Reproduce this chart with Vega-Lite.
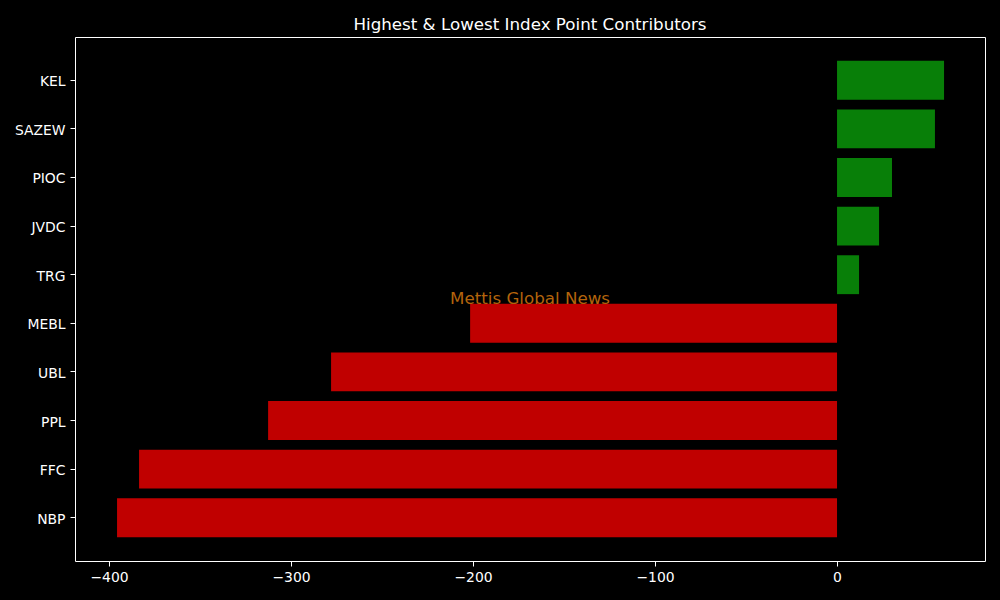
{
  "$schema": "https://vega.github.io/schema/vega-lite/v6.json",
  "autosize": {"type": "none"},
  "padding": {"left": 75, "top": 37, "right": 15, "bottom": 39},
  "width": 910,
  "height": 524,
  "background": "#000000",
  "config": {
    "font": "DejaVu Sans",
    "view": {"stroke": "#ffffff", "strokeWidth": 1},
    "axis": {
      "domain": false,
      "grid": false,
      "ticks": true,
      "tickColor": "#ffffff",
      "tickSize": 5,
      "tickWidth": 1,
      "labelColor": "#ffffff",
      "labelFont": "DejaVu Sans",
      "labelFontSize": 13.9,
      "labelPadding": 3,
      "title": null
    }
  },
  "title": {
    "text": "Highest & Lowest Index Point Contributors",
    "color": "#ffffff",
    "font": "DejaVu Sans",
    "fontSize": 16.7,
    "fontWeight": "normal",
    "anchor": "middle",
    "offset": 3
  },
  "data": {
    "values": [
      {"symbol": "KEL", "points": 58.8},
      {"symbol": "SAZEW", "points": 53.8},
      {"symbol": "PIOC", "points": 30.2},
      {"symbol": "JVDC", "points": 23.1},
      {"symbol": "TRG", "points": 12.1},
      {"symbol": "MEBL", "points": -201.6},
      {"symbol": "UBL", "points": -278.0},
      {"symbol": "PPL", "points": -312.6},
      {"symbol": "FFC", "points": -383.5},
      {"symbol": "NBP", "points": -395.6}
    ]
  },
  "layer": [
    {
      "mark": {"type": "bar"},
      "encoding": {
        "y": {
          "field": "symbol",
          "type": "nominal",
          "sort": null,
          "scale": {"paddingInner": 0.2, "paddingOuter": 0.49},
          "axis": {"labelPadding": 5, "labelOffset": 2}
        },
        "x": {
          "field": "points",
          "type": "quantitative",
          "scale": {"domain": [-418.7, 81.3], "nice": false, "zero": false},
          "axis": {"values": [-400, -300, -200, -100, 0], "format": "d", "labelPadding": 4}
        },
        "color": {
          "condition": {"test": "datum.points >= 0", "value": "#087f08"},
          "value": "#c00000"
        }
      }
    },
    {
      "data": {"values": [{"label": "Mettis Global News"}]},
      "mark": {
        "type": "text",
        "x": {"expr": "width/2"},
        "y": {"expr": "height/2"},
        "align": "center",
        "baseline": "middle",
        "font": "DejaVu Sans",
        "fontSize": 16.7,
        "color": "#b3640c"
      },
      "encoding": {"text": {"field": "label"}}
    }
  ]
}
